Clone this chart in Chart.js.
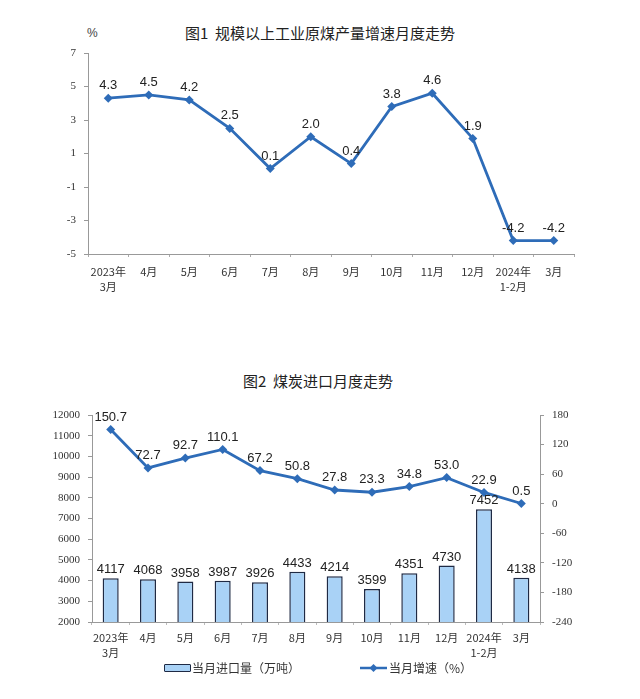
<!DOCTYPE html>
<html><head><meta charset="utf-8">
<script src="https://cdn.jsdelivr.net/npm/chart.js@4/dist/chart.umd.min.js"></script>
<style>
body{margin:0;background:#fff;width:640px;height:699px;position:relative;overflow:hidden;font-family:"Noto Sans CJK SC",sans-serif;}
.t{position:absolute;color:#222;white-space:nowrap;}
#c1w{position:absolute;left:0;top:0;width:640px;height:320px;}
#c2w{position:absolute;left:0;top:320px;width:640px;height:379px;}
</style></head><body>
<div class="t" style="left:0;width:640px;text-align:center;top:22px;font-size:15px;">图1&nbsp;&nbsp;规模以上工业原煤产量增速月度走势</div>
<div class="t" style="left:87px;top:26px;font-size:12px;font-family:'Liberation Sans';color:#444">%</div>
<div class="t" style="left:0;width:636px;text-align:center;top:370px;font-size:15px;">图2&nbsp;&nbsp;煤炭进口月度走势</div>
<div id="c1w"><canvas id="c1" width="640" height="320"></canvas></div>
<div id="c2w"><canvas id="c2" width="640" height="379"></canvas></div>
<div style="position:absolute;left:164px;top:664px;width:25px;height:6px;background:#A9D2F6;border:1.5px solid #1F2A44;border-radius:1px"></div>
<div class="t" style="left:192px;top:659px;font-size:12px;color:#333">当月进口量（万吨）</div>
<svg style="position:absolute;left:360px;top:661px" width="28" height="14"><line x1="0" y1="7" x2="27" y2="7" stroke="#2E6CB8" stroke-width="2.5"/><polygon points="13.5,3 17.5,7 13.5,11 9.5,7" fill="#2E6CB8"/></svg>
<div class="t" style="left:389px;top:659px;font-size:12px;color:#333">当月增速（%）</div>
<script>
const months1 = [["2023年","3月"],"4月","5月","6月","7月","8月","9月","10月","11月","12月",["2024年","1-2月"],"3月"];
const coalOutputGrowth = [4.3, 4.5, 4.2, 2.5, 0.1, 2.0, 0.4, 3.8, 4.6, 1.9, -4.2, -4.2];
const coalOutputLabels = ["4.3","4.5","4.2","2.5","0.1","2.0","0.4","3.8","4.6","1.9","-4.2","-4.2"];
const months2 = [["2023年","3月"],"4月","5月","6月","7月","8月","9月","10月","11月","12月",["2024年","1-2月"],"3月"];
const importVolume = [4117, 4068, 3958, 3987, 3926, 4433, 4214, 3599, 4351, 4730, 7452, 4138];
const importGrowth = [150.7, 72.7, 92.7, 110.1, 67.2, 50.8, 27.8, 23.3, 34.8, 53.0, 22.9, 0.5];
const importGrowthLabels = ["150.7","72.7","92.7","110.1","67.2","50.8","27.8","23.3","34.8","53.0","22.9","0.5"];

const LINE = '#2E6CB8';
const tickFont = {family:'Liberation Serif', size:11};
const catFont = {family:'Noto Sans CJK SC', size:11, lineHeight:1.3};
const plain = v => String(v);

const labelPlugin = {
  id:'vlabels',
  afterDatasetsDraw(chart){
    const ctx = chart.ctx;
    chart.data.datasets.forEach((ds,i)=>{
      if(!ds.vlabels) return;
      const meta = chart.getDatasetMeta(i);
      ctx.save();
      ctx.font = '13px "Liberation Sans"';
      ctx.fillStyle = '#222';
      ctx.textAlign = 'center';
      ctx.textBaseline = 'bottom';
      meta.data.forEach((el,j)=>{
        ctx.fillText(ds.vlabels[j], el.x, el.y - ds.vlabelOffset);
      });
      ctx.restore();
    });
  }
};

new Chart(document.getElementById('c1'), {
  type:'line',
  data:{labels:months1, datasets:[{
    data:coalOutputGrowth, vlabels:coalOutputLabels, vlabelOffset:6,
    borderColor:LINE, backgroundColor:LINE, borderWidth:2.8,
    pointStyle:'rectRot', pointRadius:4.5, pointBackgroundColor:LINE, pointBorderWidth:0, tension:0
  }]},
  options:{
    responsive:false, animation:false, devicePixelRatio:1,
    layout:{padding:{top:53,right:66,left:0,bottom:0}},
    plugins:{legend:{display:false},tooltip:{enabled:false}},
    scales:{
      x:{offset:true,
        grid:{offset:true,drawOnChartArea:false,tickLength:3,color:'#aaa'},
        border:{color:'#999',width:1},
        ticks:{font:catFont,color:'#333',maxRotation:0,autoSkip:false,padding:8},
        afterFit(s){s.height=66;}
      },
      y:{min:-5,max:7,
        ticks:{stepSize:2,font:tickFont,color:'#333',padding:8,callback:plain},
        grid:{drawOnChartArea:false,tickLength:4,color:'#999'},
        border:{color:'#999',width:1},
        afterFit(s){s.width=88;}
      }
    }
  },
  plugins:[labelPlugin]
});

new Chart(document.getElementById('c2'), {
  data:{labels:months2, datasets:[
    {type:'line', data:importGrowth, yAxisID:'y2', order:0,
      vlabels:importGrowthLabels, vlabelOffset:6,
      borderColor:LINE, backgroundColor:LINE, borderWidth:2.8,
      pointStyle:'rectRot', pointRadius:4.5, pointBackgroundColor:LINE, pointBorderWidth:0, tension:0},
    {type:'bar', data:importVolume, yAxisID:'y', order:1,
      vlabels:importVolume.map(String), vlabelOffset:2,
      backgroundColor:'#A9D2F6', borderColor:'#1F2A44', borderWidth:1.5,
      barPercentage:0.43, categoryPercentage:1}
  ]},
  options:{
    responsive:false, animation:false, devicePixelRatio:1,
    layout:{padding:{top:95,right:0,left:0,bottom:0}},
    plugins:{legend:{display:false},tooltip:{enabled:false}},
    scales:{
      x:{offset:true,
        grid:{offset:true,drawOnChartArea:false,tickLength:3,color:'#bbb'},
        border:{color:'#999',width:1},
        ticks:{font:catFont,color:'#333',maxRotation:0,autoSkip:false,padding:6},
        afterFit(s){s.height=77;}
      },
      y:{position:'left',min:2000,max:12000,
        ticks:{stepSize:1000,font:tickFont,color:'#333',padding:8,callback:plain},
        grid:{drawOnChartArea:false,tickLength:4,color:'#999'},
        border:{color:'#999',width:1},
        afterFit(s){s.width=92;}
      },
      y2:{position:'right',min:-240,max:180,
        ticks:{stepSize:60,font:tickFont,color:'#333',padding:8,callback:plain},
        grid:{drawOnChartArea:false,tickLength:4,color:'#999'},
        border:{color:'#999',width:1},
        afterFit(s){s.width=100;}
      }
    }
  },
  plugins:[labelPlugin]
});
</script>
</body></html>
